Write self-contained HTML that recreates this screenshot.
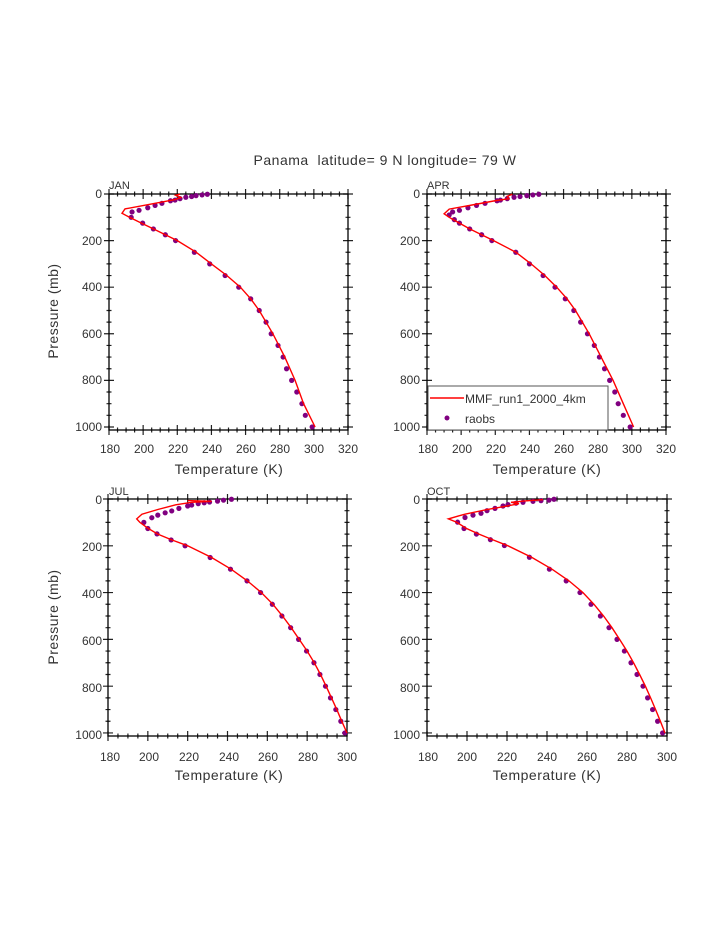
<!DOCTYPE html>
<html><head><meta charset="utf-8"><style>
html,body{margin:0;padding:0;background:#fff;}
svg{display:block;font-family:"Liberation Sans",sans-serif;}
text{fill:#333;}
</style></head><body>
<svg id="s" width="723" height="935" viewBox="0 0 723 935" xmlns="http://www.w3.org/2000/svg">
<rect width="723" height="935" fill="#fff"/>
<text x="385" y="165" font-size="14" text-anchor="middle" xml:space="preserve" letter-spacing="0.5">Panama  latitude= 9 N longitude= 79 W</text>
<g font-size="12" text-anchor="end">
<text x="102" y="198">0</text><text x="102" y="245">200</text><text x="102" y="291">400</text><text x="102" y="338">600</text><text x="102" y="384">800</text><text x="102" y="431">1000</text>
<text x="420" y="198">0</text><text x="420" y="245">200</text><text x="420" y="291">400</text><text x="420" y="338">600</text><text x="420" y="384">800</text><text x="420" y="431">1000</text>
<text x="102" y="504">0</text><text x="102" y="551">200</text><text x="102" y="598">400</text><text x="102" y="645">600</text><text x="102" y="692">800</text><text x="102" y="739">1000</text>
<text x="420" y="504">0</text><text x="420" y="551">200</text><text x="420" y="598">400</text><text x="420" y="645">600</text><text x="420" y="692">800</text><text x="420" y="739">1000</text>
</g>
<g font-size="12" text-anchor="middle">
<text x="110" y="453">180</text><text x="144" y="453">200</text><text x="178" y="453">220</text><text x="212" y="453">240</text><text x="246" y="453">260</text><text x="280" y="453">280</text><text x="314" y="453">300</text><text x="348" y="453">320</text>
<text x="428" y="453">180</text><text x="462" y="453">200</text><text x="496" y="453">220</text><text x="530" y="453">240</text><text x="564" y="453">260</text><text x="598" y="453">280</text><text x="632" y="453">300</text><text x="666" y="453">320</text>
<text x="110" y="761">180</text><text x="149" y="761">200</text><text x="189" y="761">220</text><text x="229" y="761">240</text><text x="268" y="761">260</text><text x="308" y="761">280</text><text x="347" y="761">300</text>
<text x="428" y="761">180</text><text x="467" y="761">200</text><text x="507" y="761">220</text><text x="547" y="761">240</text><text x="587" y="761">260</text><text x="627" y="761">280</text><text x="667" y="761">300</text>
</g>
<g font-size="14" text-anchor="middle" letter-spacing="0.5">
<text x="229" y="474">Temperature (K)</text><text x="547" y="474">Temperature (K)</text>
<text x="229" y="780">Temperature (K)</text><text x="547" y="780">Temperature (K)</text>
<text transform="translate(58,311) rotate(-90)">Pressure (mb)</text>
<text transform="translate(58,617) rotate(-90)">Pressure (mb)</text>
</g>
<g font-size="11">
<text x="109" y="189">JAN</text><text x="427" y="189">APR</text><text x="109" y="495">JUL</text><text x="427" y="495">OCT</text>
</g>
<g id="plots"></g>
<rect x="428" y="386" width="180" height="44" fill="#fff" stroke="#555" stroke-width="1"/>
<line x1="430" y1="398" x2="464" y2="398" stroke="#f00" stroke-width="1.4"/>
<text x="465" y="403" font-size="12">MMF_run1_2000_4km</text>
<circle cx="447" cy="418" r="2.5" fill="#800080"/>
<text x="465" y="423" font-size="12">raobs</text>
</svg>
<script>
var NS="http://www.w3.org/2000/svg",G=document.getElementById("plots");
function el(t,a){var e=document.createElementNS(NS,t);for(var k in a)e.setAttribute(k,a[k]);G.appendChild(e);return e;}
var lowerJAN=[[250,230],[300,239],[350,248],[400,256],[450,263],[500,268],[550,272],[600,275],[650,279],[700,282],[750,284],[800,287],[850,290],[900,293],[950,295],[1000,299]];
var P=[
{x0:109,x1:348,y0:194,y1:430,tmax:320,
obs:[[1,237.6],[4,234.5],[7,231],[11,228.4],[14,225],[20,221.6],[26,218.7],[29,216],[40,211],[49,207],[59,202.7],[70,197.6],[77,193.5],[100,193],[125,199.7],[150,206],[175,213],[200,219]].concat(lowerJAN),
mod:[[1,221.6],[5,219],[15,222],[23,219],[40,207],[64,189.4],[83,187.6],[100,192],[125,199],[150,206],[175,213],[200,220],[250,231],[300,240],[350,249],[400,257],[450,263],[500,268],[600,276],[700,283],[800,289],[900,294],[1000,300.7]]},
{x0:427,x1:666,y0:194,y1:430,tmax:320,
obs:[[1,245.5],[4,242],[7,238.5],[11,234.5],[14,231],[20,227],[26,223],[29,221],[40,214],[49,209],[59,204],[70,199],[77,195],[90,193],[110,196],[125,199],[150,205],[175,212],[200,218],[250,232],[300,240],[350,248],[400,255],[450,261],[500,266],[550,270],[600,274],[650,278],[700,281],[750,284],[800,287],[850,290],[900,292],[950,295],[1000,299]],
mod:[[1,230],[10,227],[20,228],[30,219],[45,208],[65,193],[85,190],[100,193],[125,199],[150,205],[175,212],[200,219],[250,232],[300,241],[350,249],[400,256],[450,262],[500,267],[600,275],[700,282],[800,289],[900,295],[1000,301]]},
{x0:108,x1:347,y0:499,y1:736,tmax:300,
obs:[[1,242],[5,238],[9,235],[13,231],[16,228.3],[20,225.3],[26,222],[30,220],[40,215.6],[51,212],[59,208.7],[69,205],[80,202],[100,198],[126,200],[149,204.6],[175,211.7],[200,218.7],[250,231.3],[300,241.5],[350,249.8],[400,256.6],[450,262.5],[500,267.3],[550,271.7],[600,275.7],[650,279.7],[700,283.4],[750,286.4],[800,289.2],[850,291.7],[900,294.4],[950,296.9],[1000,298.9]],
mod:[[7,220],[10,232],[14,222],[25,214],[45,205],[65,197],[85,194.4],[100,196],[125,200],[150,205],[175,212],[200,220],[250,232],[300,241.8],[350,250],[400,257],[450,262.8],[500,267.6],[550,272],[600,276],[650,280],[700,283.6],[750,286.7],[800,289.5],[850,292.2],[900,294.9],[950,297.4],[1000,300]]},
{x0:427,x1:667,y0:499,y1:736,tmax:300,
obs:[[1,243.5],[5,241],[7,237],[10,233],[14,228],[18,224.5],[24,220.5],[30,218],[40,214],[50,210],[61,207],[69,203],[79,199],[99,195.3],[126,198.5],[150,204.7],[174,211.7],[199,218.7],[249,231.2],[300,241.2],[350,249.6],[400,256.5],[450,262],[500,266.7],[550,271],[600,275],[650,278.7],[700,282],[750,285],[800,288],[850,290.3],[900,292.8],[950,295.3],[1000,297.8]],
mod:[[3,238],[8,229],[14,222],[20,226],[30,220],[45,210],[65,199],[72,196],[85,190.7],[100,195],[125,199.5],[150,206],[175,213],[200,220.5],[250,232.5],[300,242.5],[350,251],[400,258],[450,263.5],[500,268.3],[550,272.5],[600,276.3],[650,280],[700,283.3],[750,286.3],[800,289.2],[850,291.8],[900,294.3],[950,296.7],[1000,299]]}
];
P.forEach(function(p){
 var sx=(p.x1-p.x0)/(p.tmax-180), py=(p.y1-p.y0)/1013;
 function X(t){return p.x0+(t-180)*sx;} function Y(v){return p.y0+v*py;}
 var s="";
 for(var t=180;t<=p.tmax;t+=5){var x=X(t),L=(t%20==0)?5:2.5;
  s+="M"+x+" "+(p.y0-L)+"V"+(p.y0+L)+"M"+x+" "+(p.y1-L)+"V"+(p.y1+L);}
 for(var v=0;v<=1000;v+=50){var y=Y(v),L=(v%200==0)?5:2.5;
  s+="M"+(p.x0-L)+" "+y+"H"+(p.x0+L)+"M"+(p.x1-L)+" "+y+"H"+(p.x1+L);}
 el("path",{d:s,stroke:"#222","stroke-width":1.2,fill:"none"});
 el("rect",{x:p.x0,y:p.y0,width:p.x1-p.x0,height:p.y1-p.y0,fill:"none",stroke:"#000","stroke-width":1.3});
 p.obs.forEach(function(o){el("circle",{cx:X(o[1]),cy:Y(o[0]),r:2.6,fill:"#800080"});});
 el("polyline",{points:p.mod.map(function(m){return X(m[1]).toFixed(1)+","+Y(m[0]).toFixed(1);}).join(" "),fill:"none",stroke:"#f00","stroke-width":1.4});
});
</script>
</body></html>
